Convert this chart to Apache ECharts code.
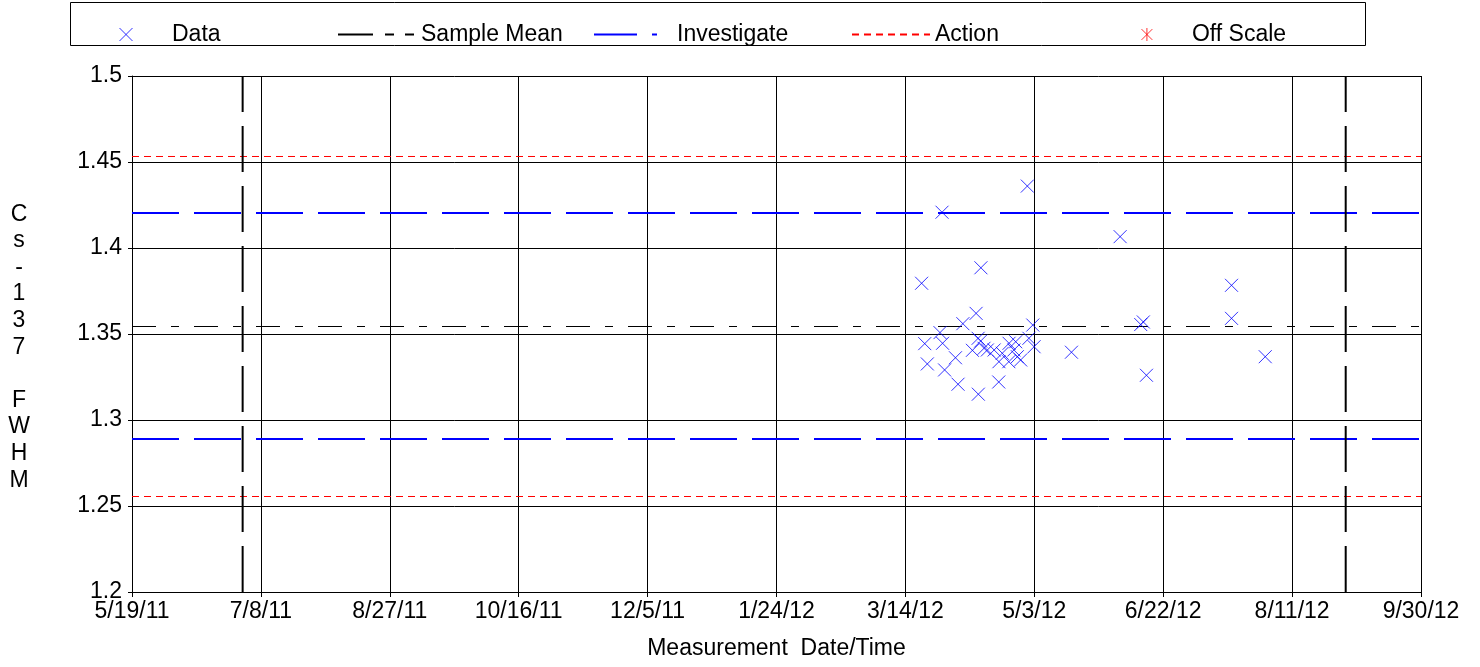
<!DOCTYPE html>
<html>
<head>
<meta charset="utf-8">
<title>Cs-137 FWHM</title>
<script src="https://cdn.jsdelivr.net/npm/echarts@6/dist/echarts.min.js"></script>
<style>
  html, body { margin: 0; padding: 0; background: #fff; }
  #fwhm_chart { width: 1480px; height: 667px; }
</style>
</head>
<body>
<div id="fwhm_chart"></div>
<script>
// measurement time of every point (UTC) and its Cs-137 FWHM
const measureTimes = [
  '2012-03-20 07:00', '2012-03-21 12:00', '2012-03-22 12:00', '2012-03-27 10:00',
  '2012-03-28 05:00', '2012-03-28 10:00', '2012-03-29 05:00', '2012-04-02 10:00',
  '2012-04-03 10:00', '2012-04-05 07:00', '2012-04-09 00:00', '2012-04-10 10:00',
  '2012-04-11 07:00', '2012-04-11 05:00', '2012-04-12 05:00', '2012-04-12 07:00',
  '2012-04-13 12:00', '2012-04-14 19:00', '2012-04-17 10:00', '2012-04-19 05:00',
  '2012-04-19 07:00', '2012-04-20 14:00', '2012-04-23 05:00', '2012-04-23 03:00',
  '2012-04-25 02:00', '2012-04-25 19:00', '2012-04-26 10:00', '2012-04-27 17:00',
  '2012-04-30 07:00', '2012-04-30 22:00', '2012-05-02 10:00', '2012-05-02 22:00',
  '2012-05-17 10:00', '2012-06-05 07:00', '2012-06-13 07:00', '2012-06-14 07:00',
  '2012-06-15 12:00', '2012-07-18 12:00', '2012-07-18 12:00', '2012-07-31 14:00'
]
const fwhmValues = [
  1.3795, 1.3444, 1.3326, 1.3508,
  1.4208, 1.3446, 1.3291, 1.3362,
  1.3208, 1.3560, 1.3405, 1.3620,
  1.3150, 1.3475, 1.3459, 1.3885,
  1.3417, 1.3407, 1.3407, 1.3221,
  1.3339, 1.3388, 1.3446, 1.3339,
  1.3407, 1.3455, 1.3368, 1.3349,
  1.4360, 1.3475, 1.3552, 1.3426,
  1.3394, 1.4066, 1.3555, 1.3570,
  1.3260, 1.3783, 1.3591, 1.3368
]
const offScaleTimes = []   // nothing off scale in this period
const offScaleValues = []

// control limits
const sampleMean = 1.35436
const investigateLimits = [1.42035, 1.28895]
const actionLimits = [1.4532, 1.25552]
// the two vertical boundary markers
const boundaryTimes = ['2011-06-30 22:00', '2012-08-31 19:00']

// axes: x is days since 5/19/11, ticks every 50 days
const axisStart = '2011-05-19 00:00'
const axisDays = 500
const tickDays = 50
const xTickLabels = ['5/19/11', '7/8/11', '8/27/11', '10/16/11', '12/5/11', '1/24/12',
  '3/14/12', '5/3/12', '6/22/12', '8/11/12', '9/30/12']
const yMin = 1.2, yMax = 1.5, yStep = 0.05

const FONT = 'Liberation Sans, Arial, sans-serif'
const CROSS = 'path://M0,0L10,10M10,0L0,10'
const STAR = 'path://M0,0L10,10M10,0L0,10M5,-1L5,11'

function toMs(s) {
  const [d, t] = s.split(' ')
  const [Y, M, D] = d.split('-').map(Number)
  const [h, m] = (t || '0:0').split(':').map(Number)
  return Date.UTC(Y, M - 1, D, h, m)
}
const startMs = toMs(axisStart)
const toDays = (s) => (toMs(s) - startMs) / 86400000

const points = measureTimes.map((t, i) => [toDays(t), fwhmValues[i]])
const offPoints = offScaleTimes.map((t, i) => [toDays(t), offScaleValues[i]])

// horizontal limit line across the full axis
const hLine = (name, v, color, width, dash) => ({
  name: name, type: 'line', symbol: 'none', silent: true, z: 2,
  data: [[0, v], [axisDays, v]],
  itemStyle: {color: color},
  lineStyle: {color: color, width: width, type: dash}
})

const series = [
  hLine('Action', actionLimits[0], '#ff0000', 1, [7, 5]),
  hLine('Action', actionLimits[1], '#ff0000', 1, [7, 5]),
  hLine('Investigate', investigateLimits[0], '#0000ff', 2, [47, 15]),
  hLine('Investigate', investigateLimits[1], '#0000ff', 2, [47, 15]),
  hLine('Sample Mean', sampleMean, '#000000', 1, [24, 15, 8, 15])
]
boundaryTimes.forEach(t => {
  series.push({
    name: 'boundary', type: 'line', symbol: 'none', silent: true, z: 2,
    data: [[toDays(t), yMin], [toDays(t), yMax]],
    lineStyle: {color: '#000', width: 2, type: [46, 14]}
  })
})
series.push({
  name: 'Data', type: 'scatter', symbol: CROSS, symbolSize: 13, z: 5,
  itemStyle: {color: 'none', borderColor: '#0000ff', borderWidth: 1},
  data: points
})
series.push({
  name: 'Off Scale', type: 'scatter', symbol: STAR, symbolSize: 13, z: 5,
  itemStyle: {color: 'none', borderColor: '#ff0000', borderWidth: 1},
  data: offPoints
})

const legendText = {fontFamily: FONT, fontSize: 23, color: '#000'}
const noSymbol = {color: 'transparent', borderColor: 'transparent', borderWidth: 0}
const legendItem = (name, left, extra) => Object.assign({
  data: [name], left: left, top: 23, padding: 0,
  itemWidth: 78, itemHeight: 14, itemGap: 0,
  selectedMode: false, textStyle: legendText, itemStyle: noSymbol
}, extra)

const option = {
  animation: false,
  backgroundColor: '#fff',
  textStyle: {fontFamily: FONT},
  grid: {left: 132, right: 59, top: 76, bottom: 75},
  legend: [
    legendItem('Data', 117, {icon: CROSS, itemWidth: 82, itemHeight: 13,
      itemStyle: {color: 'none', borderColor: '#0000ff', borderWidth: 1}}),
    legendItem('Sample Mean', 337, {lineStyle: {type: [35, 12, 9, 11, 9, 60]}}),
    legendItem('Investigate', 593, {lineStyle: {type: [43, 15, 5, 60], width: 2}}),
    legendItem('Action', 851, {lineStyle: {type: [7, 5]}}),
    legendItem('Off Scale', 1139, {icon: STAR, itemWidth: 80, itemHeight: 13,
      itemStyle: {color: 'none', borderColor: '#ff0000', borderWidth: 1}})
  ],
  graphic: [{
    type: 'rect', silent: true,
    shape: {x: 70.5, y: 2.5, width: 1295, height: 43},
    style: {fill: 'none', stroke: '#000', lineWidth: 1}
  }],
  xAxis: {
    type: 'value', min: 0, max: axisDays, interval: tickDays,
    name: 'Measurement  Date/Time', nameLocation: 'middle', nameGap: 45,
    nameTextStyle: {fontFamily: FONT, fontSize: 23, color: '#000'},
    axisLine: {show: true, lineStyle: {color: '#000', width: 1}},
    axisTick: {show: true, length: 5, lineStyle: {color: '#000'}},
    axisLabel: {
      fontFamily: FONT, fontSize: 23, color: '#000', margin: 8,
      formatter: (v) => xTickLabels[Math.round(v / tickDays)]
    },
    splitLine: {show: true, lineStyle: {color: '#000', width: 1}}
  },
  yAxis: {
    type: 'value', min: yMin, max: yMax, interval: yStep,
    // leading blank line pushes the stacked title a little below centre
    name: '\nC\ns\n-\n1\n3\n7\n\nF\nW\nH\nM', nameLocation: 'middle', nameRotate: 0, nameGap: 113,
    nameTextStyle: {fontFamily: FONT, fontSize: 23, color: '#000', align: 'center',
      verticalAlign: 'middle', lineHeight: 26.6},
    axisLine: {show: true, lineStyle: {color: '#000', width: 1}},
    axisTick: {show: true, length: 4, lineStyle: {color: '#000'}},
    axisLabel: {fontFamily: FONT, fontSize: 23, color: '#000', margin: 10},
    splitLine: {show: true, lineStyle: {color: '#000', width: 1}}
  },
  series: series
}

const chart = echarts.init(document.getElementById('fwhm_chart'))
chart.setOption(option)
</script>
</body>
</html>
